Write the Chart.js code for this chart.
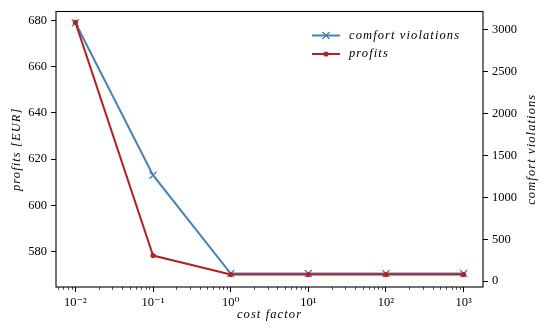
<!DOCTYPE html>
<html><head><meta charset="utf-8">
<script src="https://cdn.jsdelivr.net/npm/chart.js@4/dist/chart.umd.min.js"></script>
<style>html,body{margin:0;padding:0;background:#fff}#wrap{width:545px;height:330px;position:relative}</style>
</head><body><div id="wrap"><canvas id="c" width="545" height="330" style="width:545px;height:330px"></canvas></div>
<script>
// ---- data ----
const costFactors = [0.01, 0.1, 1, 10, 100, 1000];
const comfortViolations = [3085, 1265, 90, 90, 90, 90];
const profits = [679.2, 578.2, 570, 570, 570, 570];
const xTickValues = [0.01, 0.1, 1, 10, 100, 1000];
const xTickLabels = ['10⁻²', '10⁻¹', '10⁰', '10¹', '10²', '10³'];
const profitTicks = [580, 600, 620, 640, 660, 680];
const comfortTicks = [0, 500, 1000, 1500, 2000, 2500, 3000];
const seriesLabels = ['comfort violations', 'profits'];
const xTitle = 'cost factor';
const yLeftTitle = 'profits [EUR]';
const yRightTitle = 'comfort violations';

const BLUE = '#4682B4', RED = '#B22222';
const SERIF = '"Liberation Serif", "DejaVu Serif", serif';
const TICK_FONT = {family: SERIF, size: 12.5};
const ITAL = 'italic 12.5px ' + SERIF;
const SPACING = '1.1px';

function drawText(ctx, text, x, y, rot) {
  ctx.save();
  ctx.font = ITAL;
  ctx.letterSpacing = SPACING;
  ctx.fillStyle = '#000'; ctx.textAlign = 'center'; ctx.textBaseline = 'middle';
  ctx.translate(x, y);
  if (rot) ctx.rotate(rot);
  ctx.fillText(text, 0, 0);
  ctx.restore();
}

const framePlugin = {
  id: 'frameAndMinor',
  afterDraw(chart) {
    const ctx = chart.ctx, ca = chart.chartArea;
    ctx.save();
    const xs = chart.scales.x;
    ctx.strokeStyle = '#000'; ctx.lineWidth = 0.7;
    for (let d = -3; d <= 3; d++) {
      for (let k = 2; k <= 9; k++) {
        const v = k * Math.pow(10, d);
        if (v < xs.min || v > xs.max) continue;
        const px = Math.round(xs.getPixelForValue(v)) + 0.5;
        ctx.beginPath(); ctx.moveTo(px, ca.bottom); ctx.lineTo(px, ca.bottom + 2.8); ctx.stroke();
      }
    }
    ctx.lineWidth = 1.1; ctx.strokeStyle = '#000';
    ctx.strokeRect(ca.left, ca.top, ca.right - ca.left, ca.bottom - ca.top);
    ctx.restore();
    const midY = (ca.top + ca.bottom) / 2;
    drawText(ctx, yRightTitle, 532, midY, -Math.PI / 2);
    drawText(ctx, yLeftTitle, 17, midY, -Math.PI / 2);
    drawText(ctx, xTitle, (ca.left + ca.right) / 2, 315, 0);
  },
  afterDatasetsDraw(chart) {
    const ctx = chart.ctx, ca = chart.chartArea;
    const order = [1, 0];
    ctx.save();
    order.forEach((di, i) => {
      const ds = chart.data.datasets[di];
      const y = ca.top + 24 + i * 18.5;
      const x0 = ca.right - 171, x1 = ca.right - 143;
      ctx.strokeStyle = ds.borderColor; ctx.fillStyle = ds.borderColor; ctx.lineWidth = ds.borderWidth;
      ctx.beginPath(); ctx.moveTo(x0, y); ctx.lineTo(x1, y); ctx.stroke();
      ctx.lineWidth = ds.pointBorderWidth || 1;
      Chart.helpers.drawPoint(ctx, {pointStyle: ds.pointStyle, radius: ds.pointRadius, borderWidth: ds.pointBorderWidth}, (x0 + x1) / 2, y);
      ctx.fillStyle = '#000';
      ctx.font = ITAL;
      ctx.letterSpacing = SPACING;
      ctx.textAlign = 'left'; ctx.textBaseline = 'middle';
      ctx.fillText(ds.label, ca.right - 134, y);
      ctx.letterSpacing = '0px';
    });
    ctx.restore();
  }
};

new Chart(document.getElementById('c'), {
  type: 'line',
  data: {
    datasets: [
      {
        label: seriesLabels[1],
        data: costFactors.map((c, i) => ({x: c, y: profits[i]})),
        yAxisID: 'yL', order: 0,
        borderColor: RED, backgroundColor: RED, borderWidth: 2,
        pointStyle: 'circle', pointRadius: 2.6, pointBackgroundColor: RED, pointBorderColor: RED, pointBorderWidth: 0,
        tension: 0, fill: false
      },
      {
        label: seriesLabels[0],
        data: costFactors.map((c, i) => ({x: c, y: comfortViolations[i]})),
        yAxisID: 'yR', order: 1,
        borderColor: BLUE, backgroundColor: BLUE, borderWidth: 2,
        pointStyle: 'crossRot', pointRadius: 5, pointBorderColor: BLUE, pointBorderWidth: 1.3,
        tension: 0, fill: false
      }
    ]
  },
  options: {
    responsive: false, animation: false, devicePixelRatio: 1,
    layout: {padding: {top: 9, left: 0, right: 0, bottom: 0}},
    plugins: {legend: {display: false}, tooltip: {enabled: false}},
    scales: {
      x: {
        type: 'logarithmic', position: 'bottom',
        min: Math.pow(10, -2.25), max: Math.pow(10, 3.25),
        afterBuildTicks: s => { s.ticks = xTickValues.map(v => ({value: v, major: true})); },
        afterFit: s => { s.height = 43; },
        ticks: {autoSkip: false, maxRotation: 0, padding: 3, color: '#000', font: TICK_FONT,
          callback: v => { const i = xTickValues.findIndex(t => Math.abs(t - v) / t < 1e-9); return i >= 0 ? xTickLabels[i] : ''; }},
        grid: {drawOnChartArea: false, drawTicks: true, tickLength: 5, tickColor: '#000', tickWidth: 1},
        border: {display: false},
        title: {display: false}
      },
      yL: {
        type: 'linear', position: 'left',
        min: 564.6, max: 683.9,
        afterBuildTicks: s => { s.ticks = profitTicks.map(v => ({value: v})); },
        afterFit: s => { s.width = 56; },
        ticks: {padding: 4, color: '#000', font: TICK_FONT, callback: v => String(v)},
        grid: {drawOnChartArea: false, drawTicks: true, tickLength: 5, tickColor: '#000', tickWidth: 1},
        border: {display: false},
        title: {display: false}
      },
      yR: {
        type: 'linear', position: 'right',
        min: -70, max: 3220,
        afterBuildTicks: s => { s.ticks = comfortTicks.map(v => ({value: v})); },
        afterFit: s => { s.width = 62; },
        ticks: {padding: 4, color: '#000', font: TICK_FONT, callback: v => String(v)},
        grid: {drawOnChartArea: false, drawTicks: true, tickLength: 5, tickColor: '#000', tickWidth: 1},
        border: {display: false},
        title: {display: false}
      }
    }
  },
  plugins: [framePlugin]
});
</script>
</body></html>
